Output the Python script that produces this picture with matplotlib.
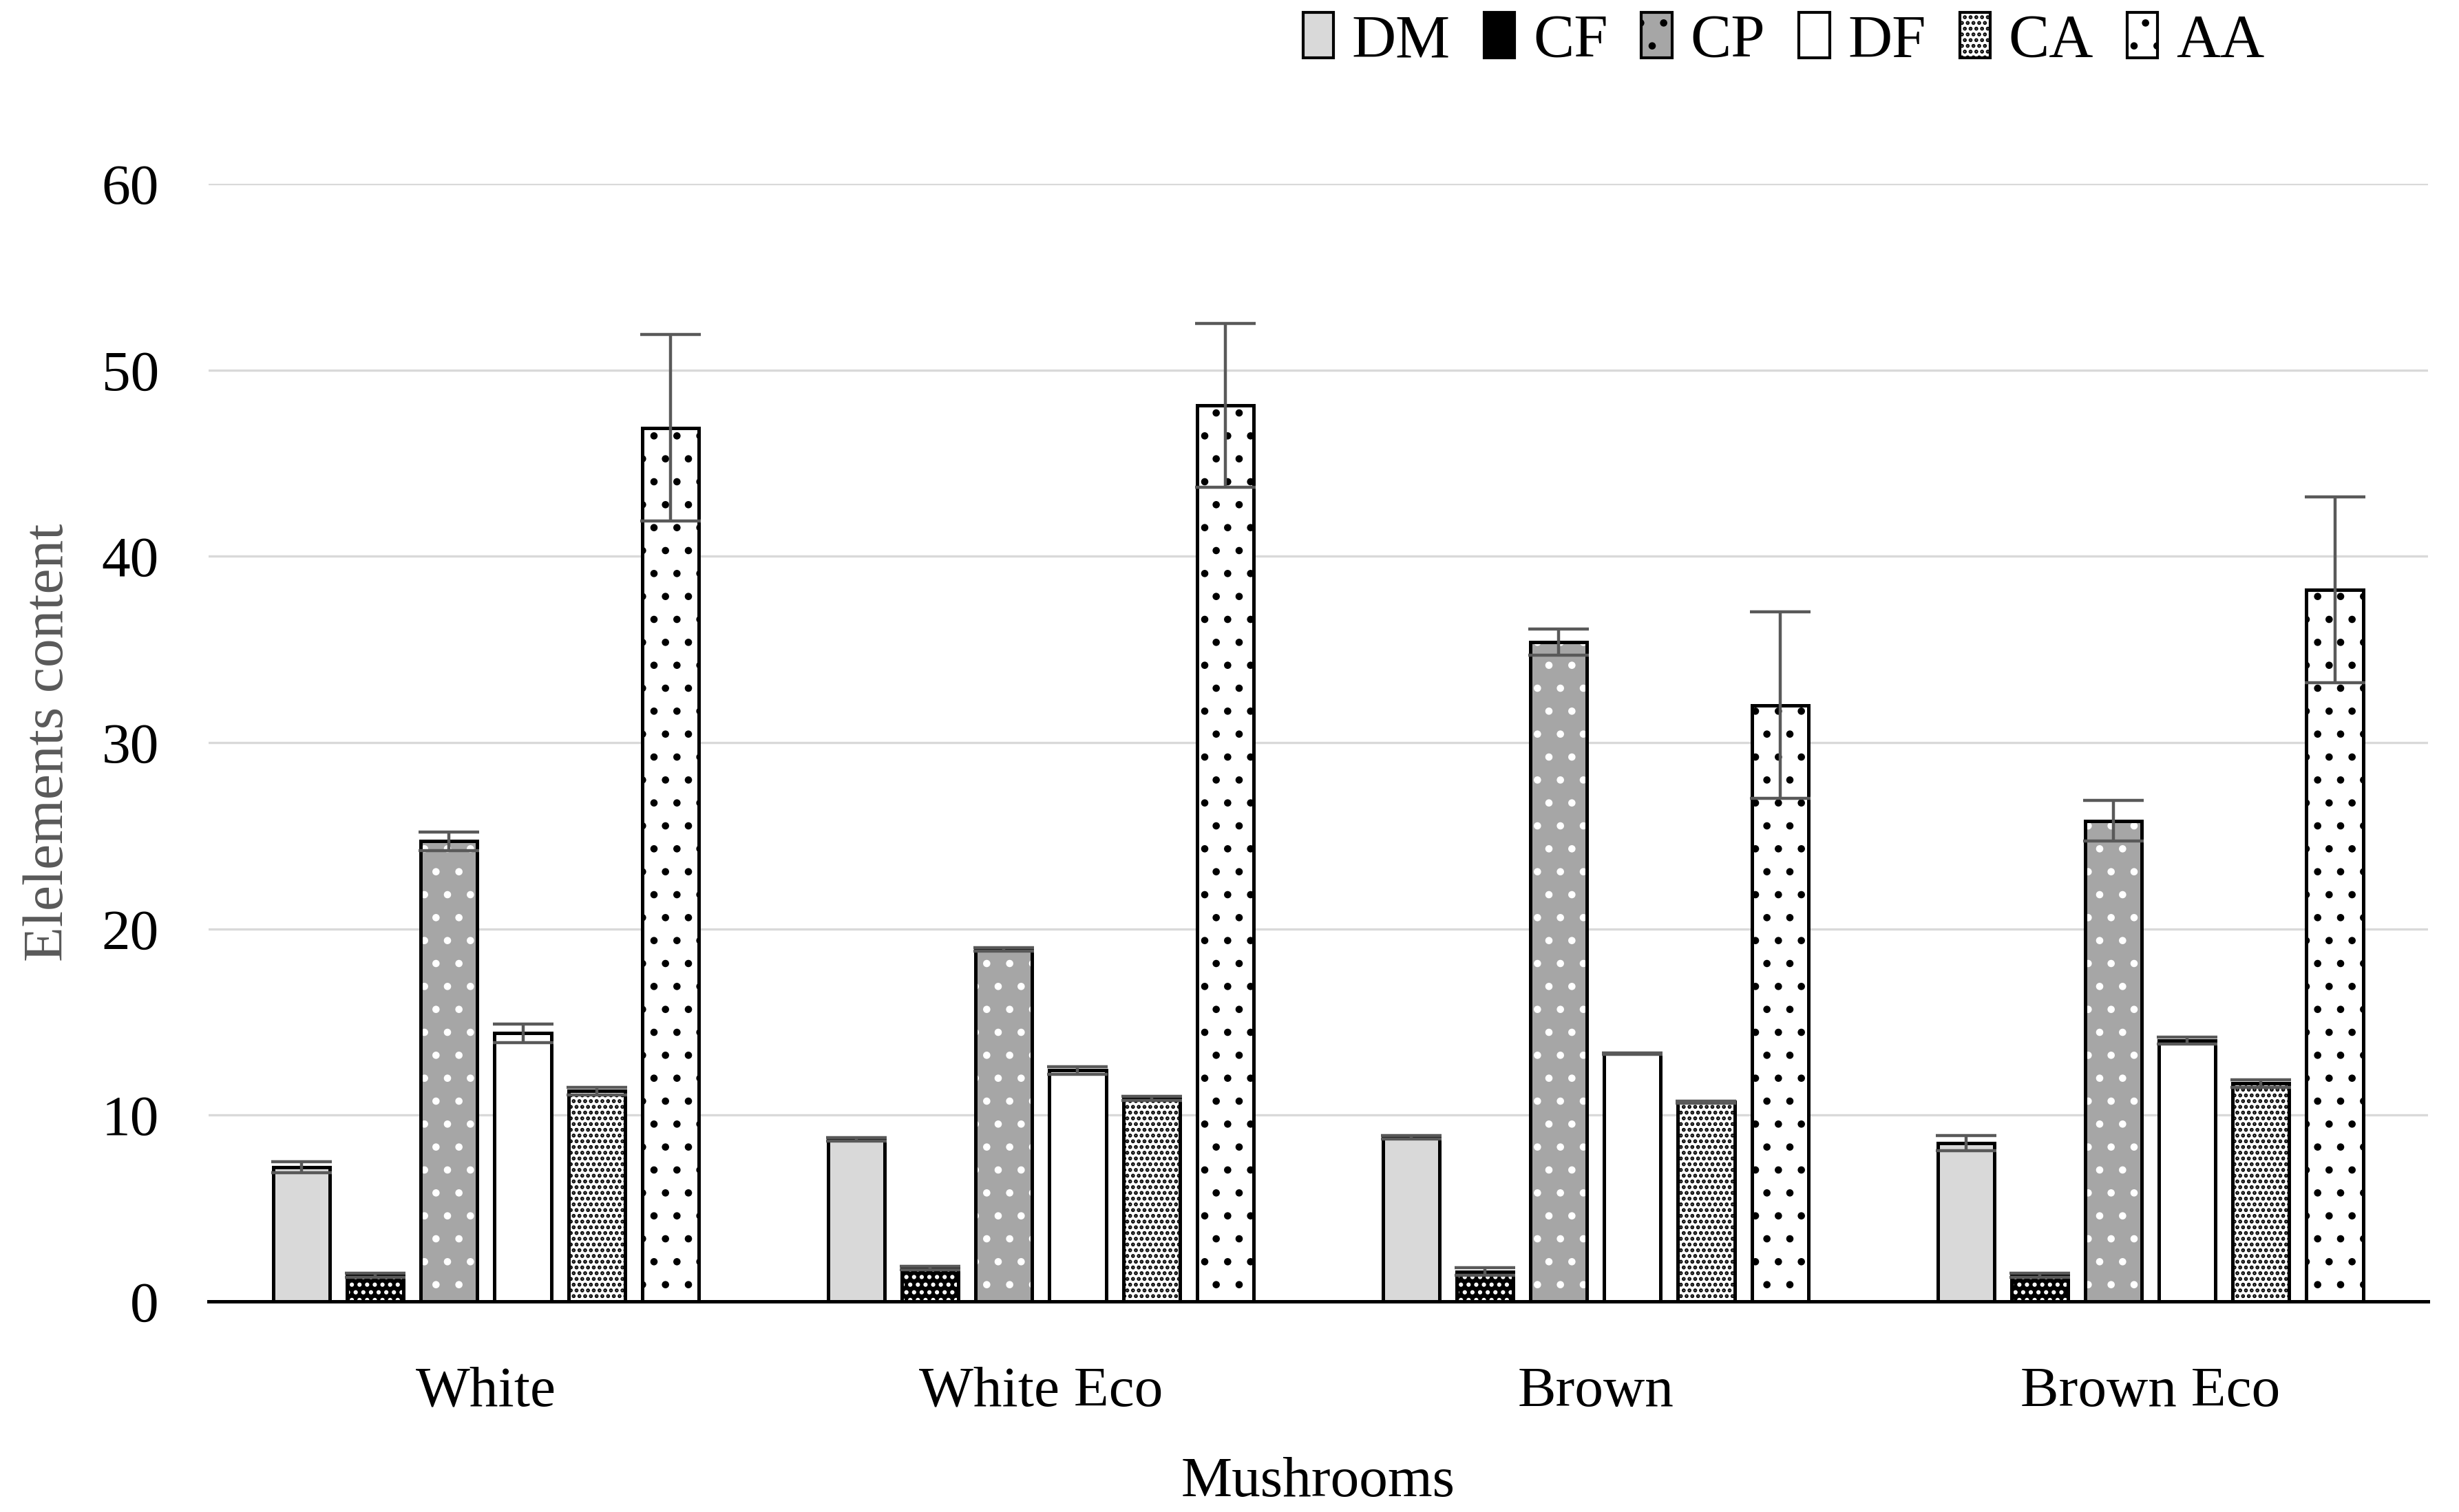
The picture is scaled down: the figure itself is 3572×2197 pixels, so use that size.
import numpy as np
import matplotlib
matplotlib.use("Agg")
import matplotlib.pyplot as plt
from matplotlib.patches import Patch

groups = ["White", "White Eco", "Brown", "Brown Eco"]
series = ["DM", "CF", "CP", "DF", "CA", "AA"]

# values
dm = [7.2, 8.7, 8.8, 8.5]
cf = [1.4, 1.8, 1.6, 1.4]
cp = [24.7, 18.9, 35.4, 25.8]
df = [14.4, 12.4, 13.3, 14.0]
ca = [11.3, 10.9, 10.7, 11.7]
aa = [46.9, 48.1, 32.0, 38.2]

dm_err = [0.3, 0.1, 0.1, 0.4]
cf_err = [0.1, 0.1, 0.2, 0.1]
cp_err = [0.5, 0.1, 0.7, 1.1]
df_err = [0.5, 0.2, 0.05, 0.2]
ca_err = [0.2, 0.1, 0.05, 0.2]
aa_err = [5.0, 4.4, 5.0, 5.0]

values = [dm, cf, cp, df, ca, aa]
errors = [dm_err, cf_err, cp_err, df_err, ca_err, aa_err]

# face colour, hatch, hatch colour
styles = [
    ("#d9d9d9", "", "#d9d9d9"),
    ("black", "...", "white"),
    ("#a6a6a6", ".", "white"),
    ("white", "", "white"),
    ("white", "....", "black"),
    ("white", ".", "black"),
]

plt.rcParams['font.family'] = ['Liberation Serif', 'DejaVu Serif']
plt.rcParams['hatch.linewidth'] = 1.4

fig = plt.figure(figsize=(17.865, 10.985), dpi=200)
ax = fig.add_axes([0.0848, 0.1393, 0.9022, 0.7392])

x = np.arange(len(groups))
w = 0.102
step = 0.133

handles = []
for i, name in enumerate(series):
    pos = x + (i - 2.5) * step
    fc, hatch, hc = styles[i]
    ax.bar(pos, values[i], w, color=fc, hatch=hatch, edgecolor=hc, linewidth=0, zorder=2)
    ax.bar(pos, values[i], w, fill=False, edgecolor="black", linewidth=1.8, zorder=3)
    ax.errorbar(pos, values[i], yerr=errors[i], fmt="none", ecolor="#595959",
                elinewidth=1.6, capsize=16, capthick=1.6, zorder=4)
    handles.append(Patch(facecolor=fc, hatch=hatch, edgecolor="black", linewidth=1.5, label=name))

ax.set_xlim(-0.5, 3.5)
ax.set_ylim(0, 60)
ax.set_yticks(range(0, 61, 10))
ax.set_xticks(x)
ax.set_xticklabels(groups)
ax.tick_params(axis="both", length=0, labelsize=30)
ax.tick_params(axis="x", pad=34)
ax.tick_params(axis="y", pad=26)
ax.grid(axis="y", color="#d9d9d9", linewidth=1.2, zorder=0)
ax.set_axisbelow(True)
for s in ["top", "right", "left"]:
    ax.spines[s].set_visible(False)
ax.spines["bottom"].set_linewidth(1.8)
ax.spines["bottom"].set_zorder(5)

ax.set_xlabel("Mushrooms", fontsize=30, labelpad=20)
ax.set_ylabel("Elelements content", fontsize=30, color="#595959", labelpad=14)

fig.legend(handles=handles, loc="upper right", bbox_to_anchor=(0.943, 1.028), ncol=6,
           frameon=False, fontsize=32, handlelength=0.5, handleheight=0.75,
           handletextpad=0.3, columnspacing=0.55)

fig.savefig("out.png", dpi=200)
